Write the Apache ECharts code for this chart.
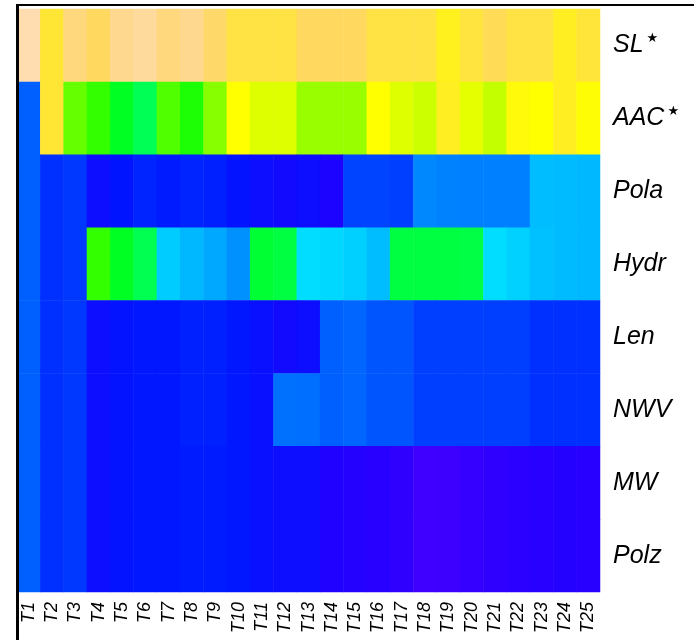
<!DOCTYPE html>
<html>
<head>
<meta charset="utf-8">
<script src="https://cdn.jsdelivr.net/npm/echarts@6/dist/echarts.min.js"></script>
<style>html,body{margin:0;padding:0;background:#fff;}#c{width:694px;height:640px;}</style>
</head>
<body>
<div id="c"></div>
<script>
// Column (sample) labels
var columns = ['T1','T2','T3','T4','T5','T6','T7','T8','T9','T10','T11','T12','T13','T14','T15','T16','T17','T18','T19','T20','T21','T22','T23','T24','T25'];
// Row (feature) labels, top to bottom
var features = ['SL','AAC','Pola','Hydr','Len','NWV','MW','Polz'];
var starred = ['SL','AAC'];

// Relative scaled values (0 = low, 100 = high), read per cell
var SL   = [100,85.5,93,90,95,97,93,95,91,87,87,87,90,90,90,87,87,87,83,86.5,89,87,87,83.5,86];
var AAC  = [17,85.5,65.6,60.8,52.8,48,63.5,58.4,68.8,80,76.8,76.8,70.4,70.4,70.4,80,76.8,75.2,83.5,77.6,74.4,81,80,83.5,80.5];
var Pola = [17,12.5,13.3,8,9.8,11.4,10.6,11.4,11,9.5,8,7.3,8,5.8,14.4,14.4,14,20.8,20.2,20,20,20,25.8,25.6,25.3];
var Hydr = [17,12.5,13.3,60.8,52.8,48.5,27.2,25.3,23.8,21.6,51.2,50,28.8,28.3,27.5,25.8,50,50,50,49.5,28.8,27.6,26.1,25.6,25.3];
var Len  = [17,12.5,13.3,8,9.5,10.2,10.2,11,11,10.2,8.8,7.3,8,17,17.6,16,16,14,14,14,14,14,12.5,12.5,12.5];
var NWV  = [17,12.5,13.3,8,9.5,10.2,10.2,11,11,10.2,8.8,18.6,18.3,17,17.6,16,16,14,14,14,14,14,12.5,12.5,12.5];
var MW   = [17,12.5,13.3,8,9.5,10.2,10.2,10.6,10.6,10.2,8.8,8,8,5,4.6,4.2,3.5,2,2.3,3,3.5,4,4.2,4.6,4.2];
var Polz = [17,12.5,13.3,8,9.5,10.2,10.2,10.6,10.6,10.2,8.8,8,8,5,4.6,4.2,3.5,2,2.3,3,3.5,4,4.2,4.6,4.2];

var rows = [SL, AAC, Pola, Hydr, Len, NWV, MW, Polz];
var data = [];
rows.forEach(function (r, yi) {
  r.forEach(function (v, xi) { data.push([xi, yi, v]); });
});

var chart = echarts.init(document.getElementById('c'), null, {renderer: 'canvas'});
var FONT = 'Liberation Sans, Arial, sans-serif';
chart.setOption({
  animation: false,
  backgroundColor: '#ffffff',
  grid: {left: 17, right: 94, top: 9, bottom: 48, containLabel: false},
  xAxis: {
    type: 'category', data: columns, position: 'bottom',
    axisLine: {show: false}, axisTick: {show: false}, splitArea: {show: false},
    axisLabel: {rotate: 90, interval: 0, margin: 10, fontSize: 18, fontStyle: 'italic', color: '#000', fontFamily: FONT}
  },
  yAxis: {
    type: 'category', data: features, inverse: true, position: 'right',
    axisLine: {show: false}, axisTick: {show: false}, splitArea: {show: false},
    axisLabel: {
      margin: 13, color: '#000', align: 'left',
      formatter: function (v) { return starred.indexOf(v) >= 0 ? '{a|' + v + '}{s|★}' : '{a|' + v + '}'; },
      rich: {
        a: {fontSize: 25, fontStyle: 'italic', fontFamily: FONT, color: '#000', lineHeight: 27},
        s: {fontSize: 13, color: '#000', fontFamily: 'DejaVu Sans', verticalAlign: 'top', lineHeight: 13, padding: [0, 0, 0, 3]}
      }
    }
  },
  visualMap: {
    show: false, min: 0, max: 100, calculable: false,
    inRange: {color: ['#5500FF','#2000FF','#0015FF','#004AFF','#0080FF','#00B5FF','#00EAFF','#00FFDF','#00FFAA','#00FF75','#00FF40','#00FF0B','#2BFF00','#60FF00','#95FF00','#CAFF00','#FFFF00','#FFE830','#FFD860','#FFD890','#FFDDB0']}
  },
  series: [{
    type: 'heatmap', data: data,
    itemStyle: {borderWidth: 0},
    emphasis: {disabled: true}
  }],
  graphic: [
    {type: 'line', z: 100, shape: {x1: 17.5, y1: 4, x2: 17.5, y2: 700}, style: {stroke: '#000', lineWidth: 3}},
    {type: 'line', z: 100, shape: {x1: 16, y1: 5, x2: 700, y2: 5}, style: {stroke: '#000', lineWidth: 2}}
  ]
});
</script>
</body>
</html>
